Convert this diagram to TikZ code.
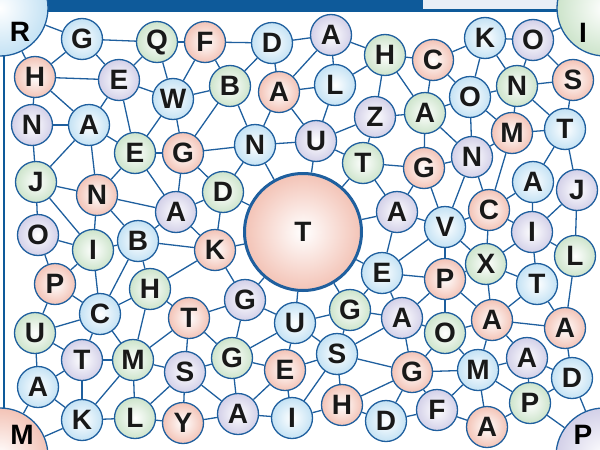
\documentclass[tikz,border=0pt]{standalone}
\usepackage{fontspec}
\setmainfont{Liberation Sans}
\definecolor{linkblue}{HTML}{1F5F9E}
\definecolor{barblue}{HTML}{0E5A9A}
\definecolor{boxfill}{HTML}{E8EEF6}
\definecolor{pinkc}{HTML}{F3C3B6}
\definecolor{bluec}{HTML}{C4E2F4}
\definecolor{greenc}{HTML}{CDE4CB}
\definecolor{lilacc}{HTML}{D3D0E8}
\begin{document}
\begin{tikzpicture}[
  x=1pt,y=-1pt,
  font=\fontsize{28}{28}\selectfont\bfseries,
  ball/.style={circle,draw=linkblue,line width=1.3pt,minimum size=41pt,inner sep=0pt,text=black!90,inner color=white},
  pinkball/.style={ball,outer color=pinkc},
  blueball/.style={ball,outer color=bluec},
  greenball/.style={ball,outer color=greenc},
  lilacball/.style={ball,outer color=lilacc},
  cornerball/.style={minimum size=96pt},
  hub/.style={ball,outer color=pinkc,line width=3pt,minimum size=117pt},
  link/.style={draw=linkblue,line width=1.3pt},
]
\useasboundingbox (0,0) rectangle (600,450);

% ---- Frame
\fill[barblue] (0,0) rectangle (600,12);
\fill[boxfill] (423,0) rectangle (600,9);
\draw[barblue,line width=1.5pt] (4,12) -- (4,450);

% ---- Corner balls
\node[blueball,cornerball,label={[xshift=20pt,yshift=-24pt]center:R}] (R0) at (0,8) {};
\node[greenball,cornerball,label={[xshift=-22pt,yshift=-25pt]center:I}] (I0) at (605,8) {};
\node[pinkball,cornerball,label={[xshift=22pt,yshift=21pt]center:M}] (M0) at (0,456) {};
\node[lilacball,cornerball,label={[xshift=-21pt,yshift=21pt]center:P}] (P0) at (604,456) {};

% ---- Hub
\node[hub] (T0) at (303,232) {T};

% ---- Row 1
\node[blueball]  (G1) at (82,39) {G};
\node[greenball] (Q1) at (157,42) {Q};
\node[pinkball]  (F1) at (205,42) {F};
\node[blueball]  (D1) at (272,43) {D};
\node[lilacball] (A1) at (331,35) {A};
\node[greenball] (H1) at (385,55) {H};
\node[pinkball]  (C1) at (433,60) {C};
\node[blueball]  (K1) at (485,38) {K};
\node[lilacball] (O1) at (533,40) {O};

% ---- Row 2
\node[pinkball]  (H2) at (35,77) {H};
\node[lilacball] (E1) at (119,80) {E};
\node[blueball]  (W1) at (173,99) {W};
\node[greenball] (B1) at (230,86) {B};
\node[pinkball]  (A2) at (279,92) {A};
\node[blueball]  (L1) at (335,85) {L};
\node[lilacball] (Z1) at (375,117) {Z};
\node[greenball] (A3) at (425,113) {A};
\node[blueball]  (O2) at (470,97) {O};
\node[greenball] (N1) at (517,86) {N};
\node[pinkball]  (S1) at (573,80) {S};

% ---- Row 3
\node[lilacball] (N2) at (32,125) {N};
\node[blueball]  (A4) at (89,125) {A};
\node[greenball] (E2) at (135,153) {E};
\node[pinkball]  (G2) at (183,153) {G};
\node[blueball]  (N3) at (255,145) {N};
\node[lilacball] (U1) at (316,141) {U};
\node[greenball] (T1) at (363,163) {T};
\node[pinkball]  (G3) at (424,168) {G};
\node[lilacball] (N4) at (472,157) {N};
\node[pinkball]  (M1) at (512,133) {M};
\node[blueball]  (T2) at (565,129) {T};

% ---- Row 4
\node[greenball] (J1) at (36,182) {J};
\node[pinkball]  (N5) at (97,195) {N};
\node[lilacball] (A5) at (176,212) {A};
\node[greenball] (D2) at (223,192) {D};
\node[lilacball] (A6) at (397,212) {A};
\node[pinkball]  (C2) at (489,210) {C};
\node[blueball]  (A7) at (533,182) {A};
\node[lilacball] (J2) at (577,190) {J};

% ---- Row 5
\node[lilacball] (O3) at (38,235) {O};
\node[greenball] (I1) at (93,250) {I};
\node[blueball]  (B2) at (138,241) {B};
\node[pinkball]  (K2) at (215,250) {K};
\node[blueball]  (V1) at (445,227) {V};
\node[lilacball] (I2) at (532,232) {I};
\node[greenball] (L2) at (575,256) {L};

% ---- Row 6
\node[pinkball]  (P1) at (55,284) {P};
\node[greenball] (H3) at (150,289) {H};
\node[blueball]  (C3) at (100,314) {C};
\node[pinkball]  (T3) at (189,318) {T};
\node[lilacball] (G4) at (245,300) {G};
\node[blueball]  (U2) at (295,323) {U};
\node[greenball] (G5) at (350,310) {G};
\node[blueball]  (E3) at (382,273) {E};
\node[pinkball]  (P2) at (445,279) {P};
\node[greenball] (X1) at (486,264) {X};
\node[blueball]  (T4) at (537,284) {T};

% ---- Row 7
\node[greenball] (U3) at (35,333) {U};
\node[lilacball] (T5) at (82,360) {T};
\node[greenball] (M2) at (133,360) {M};
\node[lilacball] (S2) at (185,372) {S};
\node[greenball] (G6) at (232,358) {G};
\node[pinkball]  (E4) at (285,370) {E};
\node[blueball]  (S3) at (337,354) {S};
\node[lilacball] (A8) at (402,318) {A};
\node[greenball] (O4) at (445,333) {O};
\node[pinkball]  (A9) at (492,320) {A};
\node[pinkball]  (A10) at (565,328) {A};

% ---- Row 8
\node[blueball]  (A11) at (38,387) {A};
\node[blueball]  (K3) at (82,420) {K};
\node[greenball] (L3) at (135,418) {L};
\node[pinkball]  (Y1) at (183,423) {Y};
\node[lilacball] (A12) at (238,414) {A};
\node[blueball]  (I3) at (292,418) {I};
\node[pinkball]  (H4) at (342,405) {H};
\node[blueball]  (D3) at (386,421) {D};
\node[pinkball]  (G7) at (412,372) {G};
\node[lilacball] (F2) at (437,410) {F};
\node[blueball]  (M3) at (478,370) {M};
\node[pinkball]  (A13) at (487,427) {A};
\node[lilacball] (A14) at (527,358) {A};
\node[greenball] (P3) at (530,403) {P};
\node[blueball]  (D4) at (572,378) {D};

% ---- Links, top left
\draw[link] (R0) -- (G1);
\draw[link] (R0) -- (H2);
\draw[link] (G1) -- (Q1);
\draw[link] (Q1) -- (F1);
\draw[link] (G1) -- (H2);
\draw[link] (G1) -- (E1);
\draw[link] (Q1) -- (E1);
\draw[link] (Q1) -- (W1);
\draw[link] (F1) -- (W1);
\draw[link] (H2) -- (E1);
\draw[link] (E1) -- (W1);
\draw[link] (H2) -- (N2);
\draw[link] (H2) -- (A4);
\draw[link] (E1) -- (A4);
\draw[link] (E1) -- (E2);
\draw[link] (W1) -- (E2);
\draw[link] (W1) -- (G2);
\draw[link] (N2) -- (A4);
\draw[link] (A4) -- (E2);
\draw[link] (N2) -- (J1);
\draw[link] (J1) -- (A4);
\draw[link] (A4) -- (N5);

% ---- Links, top middle
\draw[link] (F1) -- (D1);
\draw[link] (D1) -- (A1);
\draw[link] (A1) -- (H1);
\draw[link] (D1) -- (B1);
\draw[link] (F1) -- (B1);
\draw[link] (D1) -- (A2);
\draw[link] (A1) -- (A2);
\draw[link] (A1) -- (L1);
\draw[link] (H1) -- (L1);
\draw[link] (H1) -- (Z1);
\draw[link] (A2) -- (L1);
\draw[link] (B1) -- (W1);
\draw[link] (B1) -- (N3);
\draw[link] (B1) -- (G2);
\draw[link] (A2) -- (N3);
\draw[link] (A2) -- (U1);
\draw[link] (L1) -- (U1);
\draw[link] (Z1) -- (U1);
\draw[link] (N3) -- (U1);
\draw[link] (Z1) -- (A3);
\draw[link] (Z1) -- (T1);
\draw[link] (U1) -- (T1);
\draw[link] (U1) -- (T0);
\draw[link] (A3) -- (G3);
\draw[link] (T1) -- (G3);
\draw[link] (T1) -- (A6);
\draw[link] (T1) -- (T0);
\draw[link] (A3) -- (N4);
\draw[link] (A3) -- (O2);
\draw[link] (G3) -- (N4);
\draw[link] (G3) -- (A6);
\draw[link] (G3) -- (V1);
\draw[link] (N4) -- (O2);
\draw[link] (N4) -- (M1);
\draw[link] (N4) -- (V1);
\draw[link] (N4) -- (C2);

% ---- Links, top right
\draw[link] (H1) -- (C1);
\draw[link] (H1) -- (A3);
\draw[link] (C1) -- (K1);
\draw[link] (C1) -- (A3);
\draw[link] (C1) -- (O2);
\draw[link] (K1) -- (O1);
\draw[link] (K1) -- (O2);
\draw[link] (K1) -- (N1);
\draw[link] (O1) -- (I0);
\draw[link] (O1) -- (N1);
\draw[link] (O1) -- (S1);
\draw[link] (O2) -- (N1);
\draw[link] (O2) -- (M1);
\draw[link] (N1) -- (S1);
\draw[link] (N1) -- (M1);
\draw[link] (N1) -- (T2);
\draw[link] (S1) -- (T2);
\draw[link] (M1) -- (T2);

% ---- Links, right
\draw[link] (M1) -- (C2);
\draw[link] (A7) -- (C2);
\draw[link] (A7) -- (T2);
\draw[link] (T2) -- (J2);
\draw[link] (A7) -- (I2);
\draw[link] (J2) -- (I2);
\draw[link] (J2) -- (L2);
\draw[link] (C2) -- (V1);
\draw[link] (C2) -- (X1);
\draw[link] (C2) -- (I2);
\draw[link] (V1) -- (A6);
\draw[link] (V1) -- (E3);
\draw[link] (V1) -- (P2);
\draw[link] (V1) -- (X1);
\draw[link] (I2) -- (X1);
\draw[link] (I2) -- (L2);
\draw[link] (I2) -- (T4);
\draw[link] (X1) -- (T4);
\draw[link] (X1) -- (P2);
\draw[link] (X1) -- (A9);
\draw[link] (L2) -- (A10);
\draw[link] (T4) -- (A10);
\draw[link] (P2) -- (E3);

% ---- Links, centre
\draw[link] (N3) -- (D2);
\draw[link] (N3) -- (T0);
\draw[link] (D2) -- (T0);
\draw[link] (D2) -- (K2);
\draw[link] (D2) -- (A5);
\draw[link] (G2) -- (D2);
\draw[link] (K2) -- (T0);
\draw[link] (K2) -- (G4);
\draw[link] (B2) -- (K2);
\draw[link] (A6) -- (T0);
\draw[link] (A6) -- (E3);
\draw[link] (T0) -- (E3);
\draw[link] (T0) -- (U2);
\draw[link] (T0) -- (G4);
\draw[link] (T0) -- (G5);

% ---- Links, left
\draw[link] (E2) -- (G2);
\draw[link] (G2) -- (N3);
\draw[link] (G2) -- (A5);
\draw[link] (E2) -- (A5);
\draw[link] (E2) -- (N5);
\draw[link] (A5) -- (B2);
\draw[link] (A5) -- (K2);
\draw[link] (N5) -- (A5);
\draw[link] (J1) -- (N5);
\draw[link] (J1) -- (I1);
\draw[link] (J1) -- (O3);
\draw[link] (N5) -- (B2);
\draw[link] (N5) -- (I1);
\draw[link] (O3) -- (I1);
\draw[link] (I1) -- (B2);
\draw[link] (O3) -- (P1);
\draw[link] (I1) -- (P1);
\draw[link] (I1) -- (C3);
\draw[link] (B2) -- (C3);
\draw[link] (B2) -- (H3);
\draw[link] (H3) -- (K2);
\draw[link] (P1) -- (C3);
\draw[link] (P1) -- (U3);

% ---- Links, bottom left
\draw[link] (C3) -- (U3);
\draw[link] (C3) -- (T5);
\draw[link] (C3) -- (M2);
\draw[link] (C3) -- (H3);
\draw[link] (H3) -- (M2);
\draw[link] (H3) -- (T3);
\draw[link] (T3) -- (M2);
\draw[link] (T3) -- (S2);
\draw[link] (M2) -- (S2);
\draw[link] (U3) -- (T5);
\draw[link] (U3) -- (A11);
\draw[link] (T5) -- (M2);
\draw[link] (T5) -- (A11);
\draw[link] (T5) -- (K3);
\draw[link] (M2) -- (K3);
\draw[link] (M2) -- (L3);
\draw[link] (S2) -- (L3);
\draw[link] (S2) -- (Y1);
\draw[link] (A11) -- (K3);
\draw[link] (A11) -- (M0);
\draw[link] (K3) -- (L3);
\draw[link] (K3) -- (M0);
\draw[link] (L3) -- (Y1);

% ---- Links, bottom middle
\draw[link] (G4) -- (T3);
\draw[link] (G4) -- (U2);
\draw[link] (G4) -- (G6);
\draw[link] (T3) -- (G6);
\draw[link] (U2) -- (G6);
\draw[link] (U2) -- (G5);
\draw[link] (U2) -- (E4);
\draw[link] (U2) -- (S3);
\draw[link] (G5) -- (A8);
\draw[link] (G5) -- (S3);
\draw[link] (E3) -- (G5);
\draw[link] (E3) -- (A8);
\draw[link] (S3) -- (A8);
\draw[link] (E4) -- (S3);
\draw[link] (G6) -- (E4);
\draw[link] (G6) -- (A12);
\draw[link] (S2) -- (G6);
\draw[link] (S2) -- (A12);
\draw[link] (Y1) -- (A12);
\draw[link] (E4) -- (A12);
\draw[link] (E4) -- (I3);
\draw[link] (A12) -- (I3);
\draw[link] (S3) -- (I3);
\draw[link] (S3) -- (H4);
\draw[link] (S3) -- (G7);
\draw[link] (I3) -- (H4);
\draw[link] (H4) -- (D3);
\draw[link] (H4) -- (G7);

% ---- Links, bottom right
\draw[link] (A8) -- (G7);
\draw[link] (A8) -- (P2);
\draw[link] (A8) -- (O4);
\draw[link] (O4) -- (P2);
\draw[link] (O4) -- (A9);
\draw[link] (O4) -- (G7);
\draw[link] (O4) -- (M3);
\draw[link] (P2) -- (A9);
\draw[link] (A9) -- (T4);
\draw[link] (A9) -- (A10);
\draw[link] (A9) -- (A14);
\draw[link] (A9) -- (M3);
\draw[link] (A10) -- (D4);
\draw[link] (G7) -- (M3);
\draw[link] (G7) -- (F2);
\draw[link] (G7) -- (D3);
\draw[link] (M3) -- (A14);
\draw[link] (M3) -- (P3);
\draw[link] (M3) -- (F2);
\draw[link] (M3) -- (A13);
\draw[link] (A14) -- (D4);
\draw[link] (A14) -- (P3);
\draw[link] (D4) -- (P3);
\draw[link] (F2) -- (A13);
\draw[link] (F2) -- (D3);
\draw[link] (P3) -- (A13);
\draw[link] (P3) -- (P0);
\draw[link] (D4) -- (P0);

\end{tikzpicture}
\end{document}
